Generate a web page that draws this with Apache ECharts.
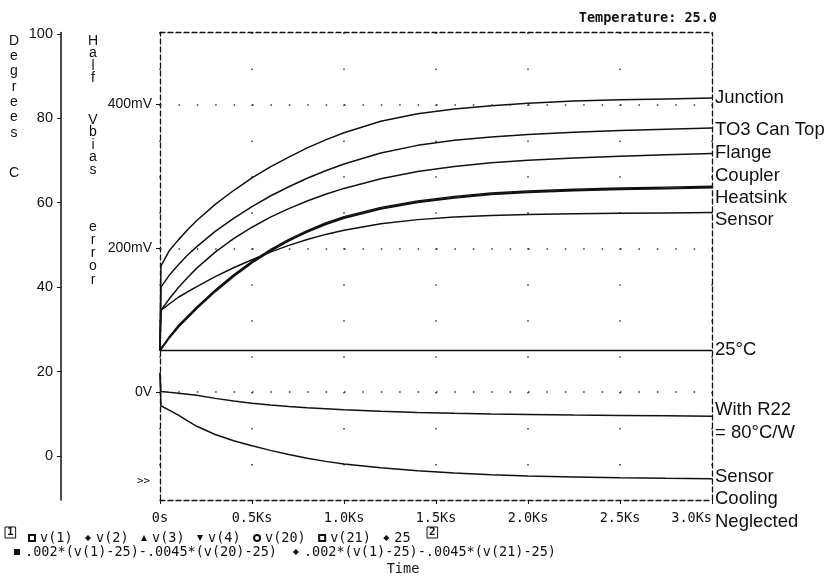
<!DOCTYPE html>
<html>
<head>
<meta charset="utf-8">
<script src="https://cdn.jsdelivr.net/npm/echarts@6/dist/echarts.min.js"></script>
<style>
html,body{margin:0;padding:0;background:#fff}
#chart{width:834px;height:578px}
</style>
</head>
<body>
<div id="chart"></div>
<script>
// time samples, seconds
var timeS = [0, 5, 50, 100, 150, 200, 300, 400, 500, 600, 700, 800, 900, 1000,
  1200, 1400, 1600, 1800, 2000, 2250, 2500, 2750, 3000];

// axis 1 : Degrees C
var junctionC = [25, 45, 48.6, 51.2, 53.6, 55.8, 59.6, 62.9, 65.9, 68.5, 70.8, 73, 74.9, 76.6,
  79.3, 81.1, 82.2, 83, 83.6, 84.1, 84.4, 84.6, 84.8];
var to3C      = [25, 40, 42.8, 45.3, 47.6, 49.6, 53.2, 56.3, 59.1, 61.6, 63.8, 65.8, 67.6, 69.2,
  71.8, 73.6, 74.8, 75.6, 76.2, 76.7, 77.1, 77.4, 77.7];
var flangeC   = [25, 34.5, 37.2, 39.9, 42.3, 44.5, 48.3, 51.5, 54.2, 56.6, 58.6, 60.4, 62, 63.4,
  65.7, 67.4, 68.6, 69.5, 70.1, 70.6, 71, 71.4, 71.7];
var couplerC  = [25, 25.4, 28.2, 30.9, 33.1, 35.3, 39.3, 42.9, 46.1, 48.9, 51.3, 53.4, 55.2, 56.7,
  58.9, 60.4, 61.5, 62.3, 62.8, 63.2, 63.5, 63.7, 63.9];
var heatsinkC = [25, 25.3, 28, 30.6, 32.8, 35, 39, 42.6, 45.8, 48.6, 51, 53.1, 54.9, 56.4,
  58.6, 60.1, 61.2, 62, 62.5, 62.9, 63.2, 63.4, 63.6];
var sensorC   = [25, 34.5, 36, 37.6, 38.9, 40.1, 42.5, 44.6, 46.5, 48.3, 49.9, 51.3, 52.5, 53.5,
  55, 56, 56.6, 57, 57.2, 57.4, 57.5, 57.6, 57.7];
var ambientC  = [25, 25, 25, 25, 25, 25, 25, 25, 25, 25, 25, 25, 25, 25,
  25, 25, 25, 25, 25, 25, 25, 25, 25];

// axis 2 : Half Vbias error, mV
var withR22mV   = [27, 1, -0.3, -1.6, -3, -4.5, -8.7, -12.3, -15.4, -18, -20, -21.6, -23, -24.4,
  -26.6, -28.2, -29.4, -30.3, -31, -31.8, -32.4, -32.9, -33.4];
var neglectedmV = [27, -19, -25, -32, -40, -47.5, -59, -67.5, -74.7, -81, -86.8, -92, -96.3, -99.8,
  -105, -109.3, -112.6, -115, -116.8, -118.1, -119.1, -119.8, -120.3];

var degTicks = [0, 20, 40, 60, 80, 100];
var mvTicks = [0, 200, 400];

var tempNames = ['v(1)', 'v(2)', 'v(3)', 'v(4)', 'v(20)', 'v(21)', '25'];
var mvNames = ['.002*(v(1)-25)-.0045*(v(20)-25)', '.002*(v(1)-25)-.0045*(v(21)-25)'];

var curveLabels = ['Junction', 'TO3 Can Top', 'Flange', 'Coupler', 'Heatsink', 'Sensor',
  '25\u00b0C', 'With R22', '= 80\u00b0C/W', 'Sensor', 'Cooling', 'Neglected'];
var curveLabelY = [98, 130, 153, 176, 198, 220, 350, 410, 433, 477, 499, 522];

var INK = '#111';
var mono = 'DejaVu Sans Mono';
var sans = 'Liberation Sans';

function lineSeries(name, vals, axis, width) {
  return {
    name: name,
    type: 'line',
    yAxisIndex: axis,
    data: timeS.map(function (t, i) { return [t, vals[i]]; }),
    symbol: 'none',
    smooth: false,
    lineStyle: { color: INK, width: width || 1.5 },
    itemStyle: { color: INK },
    z: 3
  };
}

var series = [
  lineSeries(tempNames[0], junctionC, 0),
  lineSeries(tempNames[1], to3C, 0),
  lineSeries(tempNames[2], flangeC, 0),
  lineSeries(tempNames[3], couplerC, 0, 1.4),
  lineSeries(tempNames[4], heatsinkC, 0, 2),
  lineSeries(tempNames[5], sensorC, 0),
  lineSeries(tempNames[6], ambientC, 0),
  lineSeries(mvNames[0], neglectedmV, 1),
  lineSeries(mvNames[1], withR22mV, 1)
];
// dotted horizontal grid at the mV tick values
series[8].markLine = {
  silent: true,
  symbol: 'none',
  label: { show: false },
  lineStyle: { color: '#333', width: 1.5, type: [1.5, 16.9] },
  data: mvTicks.map(function (v) { return { yAxis: v }; })
};

function vertText(word, x, y, lh) {
  return {
    type: 'text', x: x, y: y - lh / 2,
    style: { text: word.split('').join('\n'), font: '14px ' + sans, fill: INK,
             align: 'center', verticalAlign: 'top', lineHeight: lh }
  };
}

var graphics = [
  vertText('Degrees', 14, 41, 15.3),
  vertText('C', 14, 173, 15),
  vertText('Half', 93, 41, 12.4),
  vertText('Vbias', 93, 120, 12.5),
  vertText('error', 93, 227, 13.2),
  { type: 'text', x: 137, y: 476, style: { text: '>>', font: '11px ' + mono, fill: INK } },
  { type: 'text', x: 5, y: 527, style: { text: '1', font: 'bold 11px ' + mono, fill: INK,
      borderColor: INK, borderWidth: 1, padding: [0, 2, 0, 2] } },
  { type: 'text', x: 427, y: 527, style: { text: '2', font: 'bold 11px ' + mono, fill: INK,
      borderColor: INK, borderWidth: 1, padding: [0, 2, 0, 2] } }
];
curveLabels.forEach(function (txt, i) {
  graphics.push({
    type: 'text', x: 715, y: curveLabelY[i],
    style: { text: txt, font: '18.5px ' + sans, fill: INK, verticalAlign: 'middle' }
  });
});

var dashedLine = { onZero: false, lineStyle: { color: INK, width: 1.3, type: [5, 3] } };

var option = {
  animation: false,
  backgroundColor: '#fff',
  textStyle: { fontFamily: sans, color: INK },
  title: {
    text: 'Temperature: 25.0',
    right: 112, top: 6,
    textStyle: { fontFamily: mono, fontSize: 13.5, fontWeight: 'bold', color: INK }
  },
  grid: { left: 160, right: 122, top: 32.5, bottom: 78, outerBoundsMode: 'none', containLabel: false },
  legend: [
    {
      data: [
        { name: tempNames[0], icon: 'emptyRect' },
        { name: tempNames[1], icon: 'diamond' },
        { name: tempNames[2], icon: 'triangle' },
        { name: tempNames[3], icon: 'path://M0,0L10,0L5,10Z' },
        { name: tempNames[4], icon: 'emptyCircle' },
        { name: tempNames[5], icon: 'emptyRect' },
        { name: tempNames[6], icon: 'diamond' }
      ],
      left: 23, top: 526, itemWidth: 6, itemHeight: 6, itemGap: 12.5,
      selectedMode: false,
      textStyle: { fontFamily: mono, fontSize: 13.5, color: INK }
    },
    {
      data: [
        { name: mvNames[0], icon: 'rect' },
        { name: mvNames[1], icon: 'diamond' }
      ],
      left: 9, top: 540, itemWidth: 6, itemHeight: 6, itemGap: 16,
      selectedMode: false,
      textStyle: { fontFamily: mono, fontSize: 13.5, color: INK }
    }
  ],
  xAxis: [
    {
      type: 'value', min: 0, max: 3000, interval: 500, position: 'bottom',
      name: 'Time', nameLocation: 'middle', nameGap: 62,
      nameTextStyle: { fontFamily: mono, fontSize: 13.5, color: INK, padding: [0, 66, 0, 0] },
      axisLine: dashedLine,
      axisTick: { show: true, length: 4, lineStyle: { color: INK } },
      axisLabel: {
        margin: 11, fontFamily: mono, fontSize: 13.5, color: INK, alignMaxLabel: 'right',
        formatter: function (v) { return v === 0 ? '0s' : (v / 1000).toFixed(1) + 'Ks'; }
      },
      splitLine: { show: true, lineStyle: { color: '#333', width: 1.5, type: [1.5, 34.46] } }
    },
    {
      type: 'value', min: 0, max: 3000, position: 'top',
      axisLine: dashedLine,
      axisTick: { show: false }, axisLabel: { show: false }, splitLine: { show: false }
    }
  ],
  yAxis: [
    {
      type: 'value', min: -10.45, max: 100.35, position: 'left', offset: 99,
      axisLine: { show: true, onZero: false, lineStyle: { color: INK, width: 1.5 } },
      axisTick: { show: true, length: 4, customValues: degTicks, lineStyle: { color: INK } },
      axisLabel: { margin: 8, fontSize: 14.5, color: INK, customValues: degTicks },
      splitLine: { show: false }
    },
    {
      type: 'value', min: -150, max: 500, position: 'left', offset: 0,
      axisLine: { show: true, onZero: false, lineStyle: { color: INK, width: 1.3, type: [5, 3] } },
      axisTick: { show: true, length: 4, customValues: mvTicks, lineStyle: { color: INK } },
      axisLabel: {
        margin: 8, fontSize: 14, color: INK, customValues: mvTicks,
        formatter: function (v) { return v === 0 ? '0V' : v + 'mV'; }
      },
      splitLine: { show: false }
    },
    {
      type: 'value', min: 0, max: 1, position: 'right',
      axisLine: { show: true, onZero: false, lineStyle: { color: INK, width: 1.3, type: [5, 3] } },
      axisTick: { show: false }, axisLabel: { show: false }, splitLine: { show: false }
    }
  ],
  graphic: graphics,
  series: series
};

var chart = echarts.init(document.getElementById('chart'));
chart.setOption(option);
</script>
</body>
</html>
